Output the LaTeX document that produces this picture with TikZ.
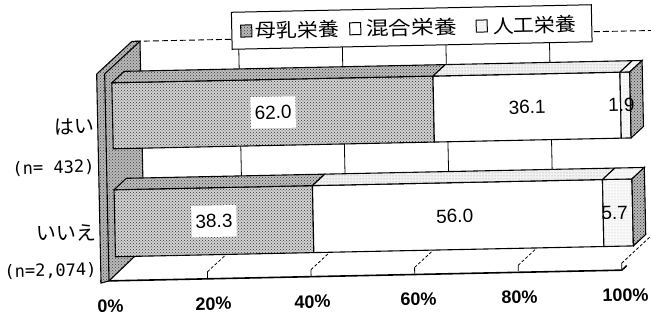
\documentclass[tikz,border=0pt]{standalone}
\usepackage{fontspec}
\setmainfont{Liberation Sans}
\newfontfamily\jpfont{Noto Sans CJK JP}
\newfontfamily\monofont{DejaVu Sans Mono}
\usetikzlibrary{patterns}
\newcommand\stackbar[4]{%
  \path[mompat,edge] (116,#1) rectangle (#3,#2);
  \path[fill=white,edge] (#3,#1) rectangle (#4,#2);
  \path[artpat,edge] (#4,#1) rectangle (634,#2);
  \path[momtop,edge] (116,#1) -- (128.6,#1-11.2) -- (#3+12.6,#1-11.2) -- (#3,#1) -- cycle;
  \path[mixtop,edge] (#3,#1) -- (#3+12.6,#1-11.2) -- (#4+12.6,#1-11.2) -- (#4,#1) -- cycle;
  \path[artpat,edge] (#4,#1) -- (#4+12.6,#1-11.2) -- (646.6,#1-11.2) -- (634,#1) -- cycle;
  \path[sidepat,edge] (634,#1) -- (646.6,#1-11.2) -- (646.6,#2-11.2) -- (634,#2) -- cycle;
}
\begin{document}
\begin{tikzpicture}[x=1pt,y=-1pt,line join=miter,
  wallpat/.style={fill=gray!55,postaction={pattern=crosshatch dots,pattern color=black!75}},
  mompat/.style={fill=gray!35,postaction={pattern=crosshatch dots,pattern color=black!80}},
  momtop/.style={fill=gray!50,postaction={pattern=crosshatch dots,pattern color=black!80}},
  mixtop/.style={fill=gray!10,postaction={pattern=dots,pattern color=black!45}},
  artpat/.style={fill=gray!5,postaction={pattern=dots,pattern color=black!25}},
  sidepat/.style={fill=gray!55,postaction={pattern=crosshatch dots,pattern color=black!80}},
  edge/.style={draw=black,line width=1.1pt},
  grid/.style={draw=black,line width=0.8pt},
  floorgrid/.style={draw=black,line width=0.8pt,dash pattern=on 3pt off 2pt},
  val/.style={font=\fontsize{19}{19}\selectfont,inner sep=0pt},
  valbox/.style={val,fill=white,inner xsep=4pt,inner ysep=9pt},
  axlab/.style={font=\bfseries\fontsize{18}{18}\selectfont,inner sep=0pt},
  catlab/.style={font=\jpfont\fontsize{20}{20}\selectfont,inner sep=0pt,anchor=east},
  nlab/.style={font=\monofont\fontsize{17}{17}\selectfont,inner sep=0pt,anchor=east},
  legtext/.style={font=\jpfont\fontsize{19}{19}\selectfont,inner sep=0pt,anchor=west},
  legsym/.style={draw=black,line width=1pt,minimum width=11pt,minimum height=12pt,inner sep=0pt}
]
\useasboundingbox (0,0) rectangle (651,320);
\fill[white] (0,0) rectangle (651,320);
\clip (0,0) rectangle (651,320);
\begin{scope}[rotate around={1.2:(104,281)},every node/.append style={transform shape}]
  % back wall: top edge and gridlines
  \draw[line width=0.9pt,dash pattern=on 6pt off 3pt] (140,42) -- (670,42);
  \foreach \p in {20,40,60,80} \draw[grid] (140+5.18*\p,42) -- (140+5.18*\p,248);
  % floor
  \fill[white] (106,280) -- (622,280) -- (658,248) -- (142,248) -- cycle;
  \foreach \p in {20,40,60,80,100} {
    \draw[grid] (104+5.18*\p,280) -- ++(0,-6);
    \draw[floorgrid] (104+5.18*\p,274) -- ++(36,-32);
  }
  \draw[line width=1.6pt] (100,281) -- (622,281) -- ++(5,-4.5);
  % left wall
  \path[wallpat,edge] (101,283) -- (101,74) -- (137,42) -- (145,42) -- (145,248) -- (109,281) -- cycle;
  \draw[edge] (109,281) -- (109,74) -- (145,42);
  % bars
  \stackbar{83}{149}{437.2}{624.2}
  \stackbar{190}{257}{314.4}{604.5}
  % data labels
  \node (a1) [valbox] at (276.6,116) {62.0};
  \node (a2) [val] at (530.7,116) {36.1};
  \node (a3) [val] at (625,116) {1.9};
  \node (b1) [valbox] at (215.2,223.5) {38.3};
  \node (b2) [val] at (456,223.5) {56.0};
  \node (b3) [val] at (616,223.5) {5.7};
  % category labels
  \node (c1) [catlab] at (98,126) {はい};
  \node (n1) [nlab] at (97,167) {(n= 432)};
  \node (c2) [catlab] at (98,232) {いいえ};
  \node (n2) [nlab] at (97,270) {(n=2,074)};
  % axis labels
  \node (x0) [axlab] at (110,306) {0\%};
  \node (x1) [axlab] at (213,306) {20\%};
  \node (x2) [axlab] at (312,306) {40\%};
  \node (x3) [axlab] at (418,306) {60\%};
  \node (x4) [axlab] at (519,306) {80\%};
  \node (x5) [axlab] at (625,306) {100\%};
  % legend
  \node (leg) [draw=black,fill=white,line width=1pt,minimum width=360pt,minimum height=37pt,inner sep=0pt] at (417,33.5) {};
  \node (s1) [legsym,wallpat] at (251.5,34) {};
  \node (t1) [legtext] at (260.5,34) {\scalebox{1.1}[1]{母乳栄養}};
  \node (s2) [legsym,fill=white] at (360.5,34) {};
  \node (t2) [legtext] at (371,34) {\scalebox{1.2}[1]{混合栄養}};
  \node (s3) [legsym,artpat] at (487,34) {};
  \node (t3) [legtext] at (498,34) {\scalebox{1.1}[1]{人工栄養}};
\end{scope}
\end{tikzpicture}
\end{document}
